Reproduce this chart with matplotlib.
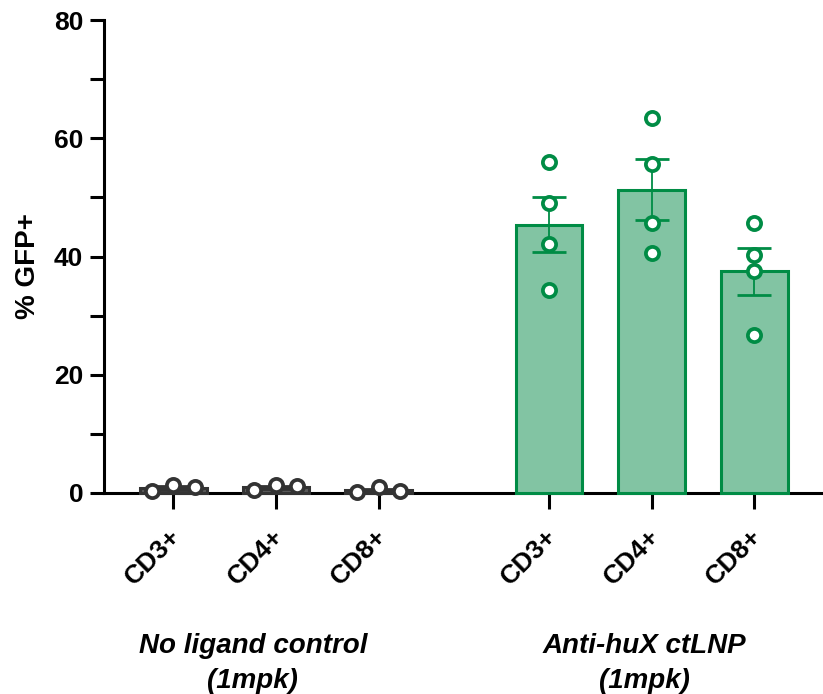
import matplotlib.pyplot as plt
import matplotlib.transforms as mtransforms
import numpy as np

plt.rcParams['font.family'] = ['Liberation Sans', 'DejaVu Sans']
plt.rcParams['font.weight'] = 'bold'

# data
cats = ["CD3+", "CD4+", "CD8+"]
group_names = ["No ligand control\n(1mpk)", "Anti-huX ctLNP\n(1mpk)"]
ctrl_pts = [[0.3, 1.4, 1.0], [0.45, 1.4, 1.1], [0.1, 1.0, 0.3]]
lnp_pts = [[55.9, 49.1, 42.1, 34.3],
           [63.4, 55.6, 45.7, 40.6],
           [45.7, 40.2, 37.5, 26.7]]

ctrl_x = [0, 1, 2]
lnp_x = [3.66, 4.66, 5.66]
ctrl_jitter = [-0.21, 0, 0.21]

green_edge = "#008C45"
green_fill = "#82C4A3"
grey_edge = "#333333"
grey_fill = "#5a5a5a"

fig = plt.figure(figsize=(8.23, 6.94), dpi=100)
ax = fig.add_axes([104 / 823, 201 / 694, 1 - 104 / 823, 473 / 694])


def draw_group(xs, pts, fill, edge, jitter=None):
    means = [np.mean(p) for p in pts]
    sems = [np.std(p, ddof=1) / np.sqrt(len(p)) for p in pts]
    ax.bar(xs, means, width=0.65, color=fill, edgecolor=edge, linewidth=2.2,
           zorder=2, clip_on=False)
    ax.errorbar(xs, means, yerr=sems, fmt="none", ecolor=edge, elinewidth=1.3,
                capsize=12, capthick=2, zorder=3, clip_on=False)
    for x, p in zip(xs, pts):
        off = jitter if jitter is not None else [0] * len(p)
        ax.plot(np.array(off) + x, p, "o", ms=9.5, mfc="white", mec=edge, mew=2.7,
                zorder=4, clip_on=False, linestyle="none")


draw_group(ctrl_x, ctrl_pts, grey_fill, grey_edge, ctrl_jitter)
draw_group(lnp_x, lnp_pts, green_fill, green_edge)

ax.set_xlim(-0.675, 6.33)
ax.set_ylim(0, 80)

for s in ["top", "right"]:
    ax.spines[s].set_visible(False)
for s in ["left", "bottom"]:
    ax.spines[s].set_linewidth(2.2)
    ax.spines[s].set_zorder(1)

ax.set_yticks([0, 20, 40, 60, 80])
ax.set_yticks([10, 30, 50, 70], minor=True)
ax.tick_params(axis="y", which="both", length=10, width=2.2, labelsize=19, pad=5)
ax.set_ylabel("% GFP+", fontsize=20, fontweight="bold", labelpad=9)
ax.yaxis.label.set_y(0.48)

ax.set_xticks(ctrl_x + lnp_x)
ax.set_xticklabels(cats + cats)
ax.tick_params(axis="x", length=11.5, width=2.2, labelsize=19, pad=17)
offset = mtransforms.ScaledTranslation(3 / 72, 0, fig.dpi_scale_trans)
for lab in ax.get_xticklabels():
    lab.set_rotation(45)
    lab.set_ha("right")
    lab.set_va("center")
    lab.set_rotation_mode("anchor")
    lab.set_transform(lab.get_transform() + offset)

trans = mtransforms.blended_transform_factory(ax.transData, ax.transAxes)
for gx, name in zip([0.776, 4.59], group_names):
    ax.text(gx, -0.297, name, transform=trans, ha="center", va="top",
            fontsize=20, fontweight="bold", fontstyle="italic", linespacing=1.42)

fig.savefig("out.png", dpi=100)
